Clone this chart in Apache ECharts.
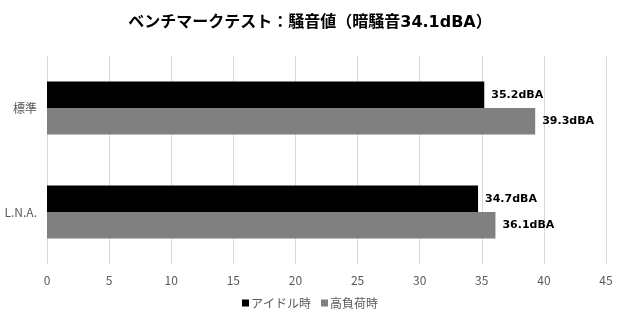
<!DOCTYPE html>
<html><head><meta charset="utf-8">
<script src="https://cdn.jsdelivr.net/npm/echarts@6/dist/echarts.min.js"></script>
<style>html,body{margin:0;padding:0;background:#fff}#c{width:620px;height:320px}</style>
</head><body><div id="c"></div>
<script>
const titleText = 'ベンチマークテスト：騒音値（暗騒音34.1dBA）';
const categories = ['標準', 'L.N.A.'];
const seriesNames = ['アイドル時', '高負荷時'];
const idleValues = [35.2, 34.7];
const loadValues = [39.3, 36.1];
const unit = 'dBA';

const font = '"Noto Sans CJK JP", "Noto Sans", sans-serif';
const chart = echarts.init(document.getElementById('c'));
const labelCfg = {
  show: true, position: 'right', distance: 7,
  color: '#000', fontSize: 11, fontWeight: 'bold', fontFamily: '"DejaVu Sans", sans-serif',
  formatter: p => p.value + unit
};
chart.setOption({
  animation: false,
  title: { text: titleText, left: 'center', top: 10,
    textStyle: { fontFamily: '"DejaVu Sans", "Noto Sans CJK JP", sans-serif', fontSize: 16, fontWeight: 'bold', color: '#000' } },
  legend: { bottom: 6, left: 'center', itemWidth: 7, itemHeight: 7, itemGap: 10,
    icon: 'rect', textStyle: { fontFamily: font, fontSize: 12, color: '#595959', padding: [0, 0, 0, -3] } },
  grid: { left: 47, right: 14, top: 56, bottom: 56, containLabel: false },
  xAxis: { type: 'value', min: 0, max: 45, interval: 5,
    axisLine: { show: false }, axisTick: { show: false },
    splitLine: { lineStyle: { color: '#d9d9d9' } },
    axisLabel: { fontFamily: font, fontSize: 12, color: '#595959', margin: 10 } },
  yAxis: { type: 'category', data: categories, inverse: true,
    axisLine: { show: false }, axisTick: { show: false },
    axisLabel: { fontFamily: font, fontSize: 12, color: '#595959', margin: 10 } },
  series: [
    { name: seriesNames[0], type: 'bar', data: idleValues, itemStyle: { color: '#000000' },
      barGap: '0%', barCategoryGap: '49%', label: labelCfg },
    { name: seriesNames[1], type: 'bar', data: loadValues, itemStyle: { color: '#808080' },
      barGap: '0%', barCategoryGap: '49%', label: labelCfg }
  ]
});
</script></body></html>
